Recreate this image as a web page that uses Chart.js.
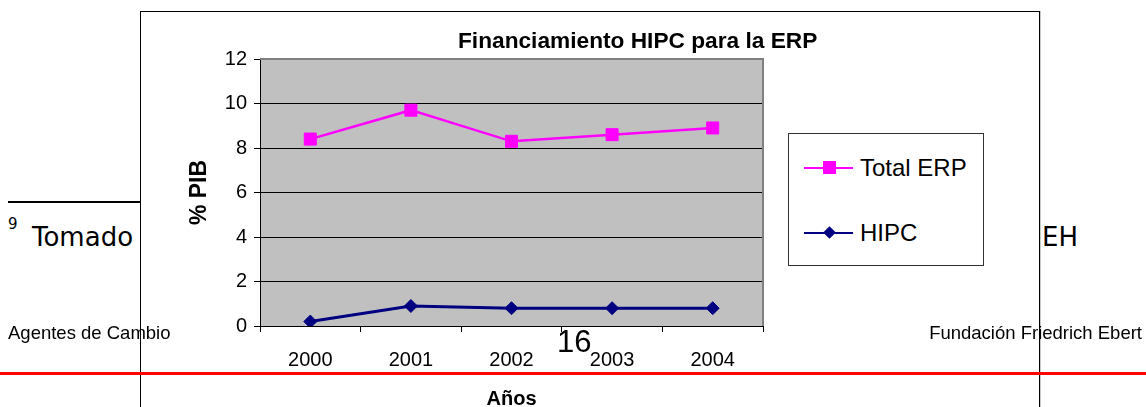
<!DOCTYPE html>
<html>
<head>
<meta charset="utf-8">
<script src="https://cdn.jsdelivr.net/npm/chart.js@4"></script>
<style>
  html, body { margin: 0; padding: 0; width: 1146px; height: 407px; overflow: hidden; background: #fff; }
  .txt { position: absolute; white-space: nowrap; line-height: 1; color: #000; }
  .arial { font-family: "Liberation Sans", Arial, sans-serif; }
  .verd { font-family: "DejaVu Sans", Verdana, sans-serif; }
  #frame { position: absolute; left: 140px; top: 11px; width: 898px; height: 420px; border: 1px solid #000;
           background: #fff; box-shadow: 1px 0 0 #c8c8c8; }
  #chart { position: absolute; left: 141px; top: 12px; }
  #legend { position: absolute; left: 788px; top: 133px; width: 194px; height: 131px; border: 1px solid #333; background: #fff; }
  .lg-line { position: absolute; left: 15px; width: 49px; height: 2px; }
  .lg-mark { position: absolute; }
  .lg-text { position: absolute; left: 71px; font-family: "Liberation Sans", Arial, sans-serif; font-size: 24px; line-height: 1; }
  .rule { position: absolute; }
</style>
</head>
<body>

<!-- page text behind the chart -->
<div class="rule" style="left:8px; top:201px; width:133px; height:2px; background:#000;"></div>
<div class="txt verd" style="left:8px; top:217px; font-size:15px;">9</div>
<div class="txt verd" style="left:32px; top:224px; font-size:26px;">Tomado</div>
<div class="txt verd" style="left:1042px; top:224px; font-size:26px;">EH</div>

<div id="frame"></div>
<canvas id="chart" width="898" height="410"></canvas>

<div class="txt arial" style="left:458px; top:29px; font-size:22.7px; font-weight:bold;">Financiamiento HIPC para la ERP</div>

<div id="legend">
  <div class="lg-line" style="top:33px; background:#ff00ff;"></div>
  <div class="lg-mark" style="left:34px; top:27px; width:13px; height:13px; background:#ff00ff;"></div>
  <div class="lg-text" style="top:22px;">Total ERP</div>
  <div class="lg-line" style="top:98px; background:#000080;"></div>
  <div class="lg-mark" style="left:36px; top:94px; width:9px; height:9px; background:#000080; transform:rotate(45deg);"></div>
  <div class="lg-text" style="top:87px;">HIPC</div>
</div>

<!-- footer layer on top -->
<div class="txt arial" style="left:8px; top:324px; font-size:18.5px;">Agentes de Cambio</div>
<div class="txt arial" style="right:4px; top:324px; font-size:18.5px;">Fundación Friedrich Ebert</div>
<div class="txt arial" style="left:557px; top:326px; font-size:31px;">16</div>
<div class="rule" style="left:0; top:372px; width:1146px; height:3px; background:#ff0000;"></div>

<script>
var years = ['2000', '2001', '2002', '2003', '2004'];
var totalERP = [8.4, 9.7, 8.3, 8.6, 8.9];
var hipc = [0.2, 0.9, 0.8, 0.8, 0.8];
var yMin = 0;
var yMax = 12;
var yStep = 2;
var yTitle = '% PIB';
var xTitle = 'Años';

const plotBackground = {
    id: 'plotBackground',
    beforeDraw(chart) {
        const a = chart.chartArea;
        const ctx = chart.ctx;
        ctx.save();
        ctx.fillStyle = '#c0c0c0';
        ctx.fillRect(a.left, a.top, a.right - a.left, a.bottom - a.top);
        ctx.restore();
    },
    afterDraw(chart) {
        const a = chart.chartArea;
        const ctx = chart.ctx;
        ctx.save();
        ctx.strokeStyle = '#808080';
        ctx.lineWidth = 2;
        ctx.beginPath();
        ctx.moveTo(a.left, a.top);
        ctx.lineTo(a.right, a.top);
        ctx.lineTo(a.right, a.bottom);
        ctx.stroke();
        ctx.restore();
    }
};

const ctx = document.getElementById('chart').getContext('2d');
const chart = new Chart(ctx, {
    type: 'line',
    data: {
        labels: years,
        datasets: [{
            label: 'Total ERP',
            data: totalERP,
            borderColor: '#ff00ff',
            backgroundColor: '#ff00ff',
            borderWidth: 2.5,
            pointStyle: 'rect',
            pointRadius: 8.5,
            pointBorderWidth: 1,
            tension: 0
        }, {
            label: 'HIPC',
            data: hipc,
            borderColor: '#000080',
            backgroundColor: '#000080',
            borderWidth: 3,
            pointStyle: 'rectRot',
            pointRadius: 6.5,
            pointBorderWidth: 1,
            tension: 0
        }]
    },
    options: {
        responsive: false,
        animation: false,
        devicePixelRatio: 1,
        layout: { padding: { top: 47, right: 276, left: 0, bottom: 0 } },
        plugins: {
            legend: { display: false },
            title: { display: false },
            tooltip: { enabled: false }
        },
        scales: {
            x: {
                type: 'category',
                offset: true,
                grid: { offset: true, drawOnChartArea: false, color: '#000', tickLength: 6 },
                border: { color: '#000', width: 1 },
                ticks: { color: '#000', padding: 16, maxRotation: 0, font: { family: 'Liberation Sans', size: 20 } },
                title: { display: true, text: xTitle, color: '#000', padding: { top: 0, bottom: 11 },
                         font: { family: 'Liberation Sans', size: 20, weight: 'bold' } },
                afterFit: function(scale) { scale.height = 96; }
            },
            y: {
                min: yMin,
                max: yMax,
                grid: { color: '#000', lineWidth: 1, tickLength: 6 },
                border: { color: '#000', width: 1 },
                ticks: { stepSize: yStep, color: '#000', padding: 7, font: { family: 'Liberation Sans', size: 20 } },
                title: { display: true, text: yTitle, color: '#000', padding: { top: 45, bottom: 0 },
                         font: { family: 'Liberation Sans', size: 23, weight: 'bold' } },
                afterFit: function(scale) { scale.width = 119; }
            }
        }
    },
    plugins: [plotBackground]
});
</script>
</body>
</html>
